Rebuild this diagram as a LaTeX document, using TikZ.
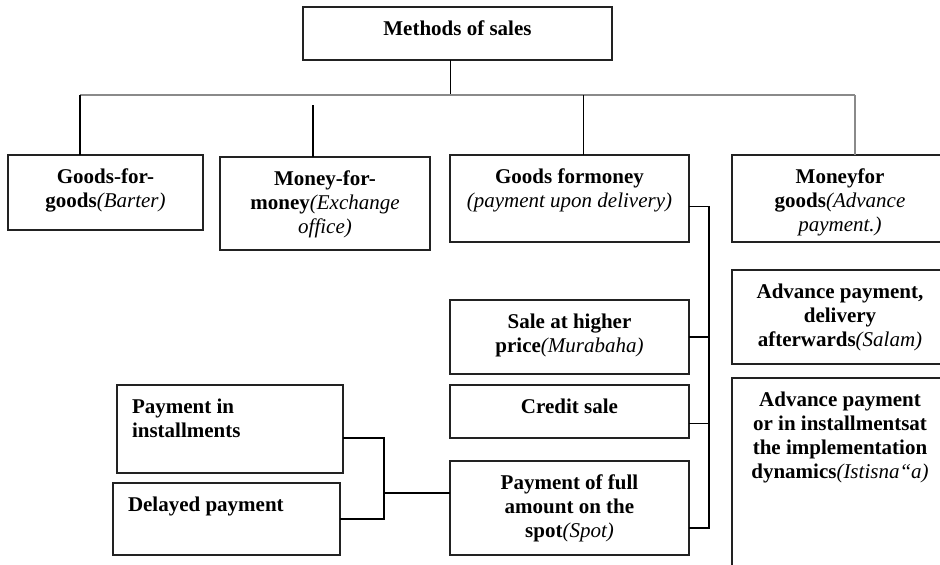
\documentclass[tikz,border=0pt]{standalone}
\usepackage{fontspec}
\setmainfont{Liberation Serif}
\usepackage{tikz}
\usetikzlibrary{positioning,calc}
\definecolor{boxline}{HTML}{222222}
\definecolor{busgray}{HTML}{8A8A8A}
\newcommand{\term}[1]{{\mdseries\itshape #1}}
\newcommand{\cellbox}[4][\centering]{\parbox[c][#3][t]{#2}{#1\vspace*{12pt}\strut#4}}
\tikzset{
  box/.style={rectangle,draw=boxline,line width=1.3pt,inner sep=0pt,outer sep=0pt,fill=white,
    text=black,font=\fontsize{21}{24}\selectfont\bfseries},
  myline/.style={line width=1.1pt,#1},
  myline/.default={black},
}
\begin{document}
\begin{tikzpicture}[x=1pt,y=1pt]
  \useasboundingbox (0,0) rectangle (940,-565);
  \clip (0,0) rectangle (940,-565);
  \node[box,anchor=north west] (sales) at (303,-7) {\cellbox{309pt}{53pt}{Methods of sales}};
  % first row
  \node[box,anchor=north west] (gfg) at (8,-155) {\cellbox{195pt}{75pt}{Goods-for-\\goods\term{(Barter)}}};
  \node[box,right=17pt of gfg.north east,anchor=north west,yshift=-2pt] (mfm) {
    \cellbox{210pt}{93pt}{Money-for-\\money\term{(Exchange}\\\term{office)}}};
  \node[box,right=20pt of mfm.north east,anchor=north west,yshift=2pt] (gfm) {
    \cellbox{239pt}{87pt}{Goods formoney\\\term{(payment upon delivery)}}};
  \node[box,right=43pt of gfm.north east,anchor=north west] (mfg) {
    \cellbox{216pt}{87pt}{Moneyfor\\goods\term{(Advance}\\\term{payment.)}}};
  % payment upon delivery
  \node[box,below=58pt of gfm.south west,anchor=north west] (sale) {
    \cellbox{239pt}{74pt}{Sale at higher\\price\term{(Murabaha)}}};
  \node[box,below=11pt of sale.south west,anchor=north west] (credit) {
    \cellbox{239pt}{53pt}{Credit sale}};
  \node[box,below=23pt of credit.south west,anchor=north west] (full) {
    \cellbox{239pt}{94pt}{Payment of full\\amount on the\\spot\term{(Spot)}}};
  % advance payment
  \node[box,below=28pt of mfg.south west,anchor=north west] (salam) {
    \cellbox{216pt}{94pt}{Advance payment,\\delivery\\afterwards\term{(Salam)}}};
  \node[box,below=14pt of salam.south west,anchor=north west] (istisna) {
    \cellbox{216pt}{200pt}{Advance payment\\or in installmentsat\\the implementation\\dynamics\term{(Istisna“a)}}};
  % credit forms
  \node[box,anchor=north west] (inst) at (117,-385) {
    \cellbox[\raggedright\leftskip=15pt]{226pt}{88pt}{Payment in\\installments}};
  \node[box,anchor=north west] (delay) at (113,-483) {
    \cellbox[\raggedright\leftskip=15pt]{227pt}{72pt}{Delayed payment}};

  \coordinate (busL) at (80,-95);
  \coordinate (busR) at (855,-95);
  \coordinate (bracket) at (384,-493);
  \draw[myline] ([xshift=-7pt]sales.south) -- ([xshift=-7pt]sales.south |- busL);
  \draw[myline=busgray] (busL) -- (busR);
  \draw[myline] (busL) -- (busL |- gfg.north);
  \draw[myline] ([xshift=-12pt]mfm.north) -- ++(0,52);
  \draw[myline] ([xshift=14pt]gfm.north) -- ([xshift=14pt]gfm.north |- busL);
  \draw[myline=busgray] (busR) -- (busR |- mfg.north);
  \draw[myline] ([yshift=-8pt]gfm.east) -- ++(20,0) |- ([yshift=-20pt]full.east);
  \draw[myline] (sale.east) -- ++(20,0);
  \draw[myline] ([yshift=-12pt]credit.east) -- ++(20,0);
  \draw[myline] ([yshift=-9pt]inst.east) -| (bracket) |- (delay.east);
  \draw[myline] (bracket) -- (bracket -| full.west);
\end{tikzpicture}
\end{document}
